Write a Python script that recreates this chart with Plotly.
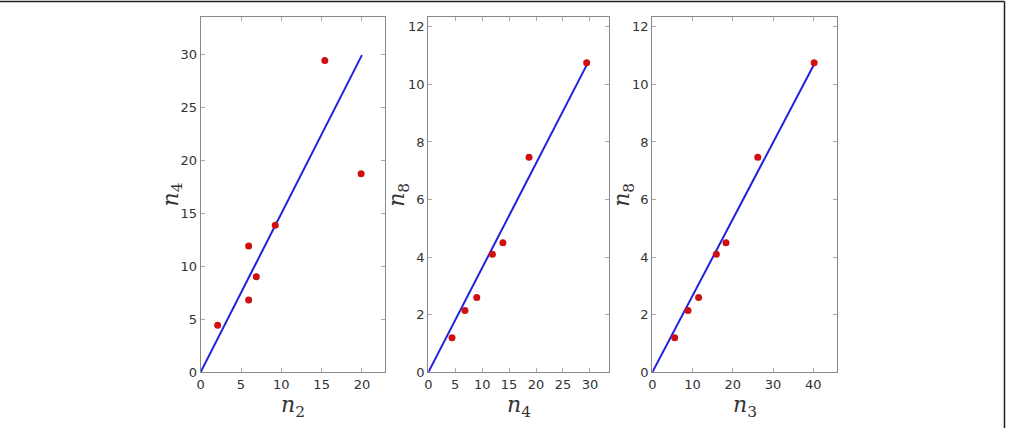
import plotly.graph_objects as go

# data
n2 = [2.1, 5.95, 6.9, 5.95, 9.25, 19.9, 15.4]
n4 = [4.4, 6.8, 9.0, 11.9, 13.85, 18.7, 29.4]
n8 = [1.2, 2.15, 2.6, 4.1, 4.5, 7.47, 10.75]
n3 = [5.56, 8.87, 11.5, 15.9, 18.3, 26.2, 40.2]

fit1_x = [0, 20.0]
fit1_y = [0, 29.9]
fit2_x = [0, 29.4]
fit2_y = [0, 10.67]
fit3_x = [0, 40.1]
fit3_y = [0, 10.67]

W, H = 1009, 428

def px_x(a, b):
    return [a / W, b / W]

def px_y(top, bottom):
    return [1 - bottom / H, 1 - top / H]

panels = [
    dict(x=n2, y=n4, fx=fit1_x, fy=fit1_y, xd=px_x(200.7, 385.3), yd=px_y(17, 372),
         xr=[0, 22.9], yr=[0, 33.5], xdt=5, ydt=5, xs="2", ys="4", ytx=172),
    dict(x=n4, y=n8, fx=fit2_x, fy=fit2_y, xd=px_x(428.3, 609.3), yd=px_y(17.3, 372.3),
         xr=[0, 33.6], yr=[0, 12.33], xdt=5, ydt=2, xs="4", ys="8", ytx=399),
    dict(x=n3, y=n8, fx=fit3_x, fy=fit3_y, xd=px_x(652.3, 836.7), yd=px_y(17.3, 372.3),
         xr=[0, 45.8], yr=[0, 12.33], xdt=10, ydt=2, xs="3", ys="8", ytx=624),
]

fig = go.Figure()
layout = dict(
    width=W, height=H, margin=dict(l=0, r=0, t=0, b=0, autoexpand=False),
    paper_bgcolor="white", plot_bgcolor="white", showlegend=False,
)

title_font = dict(family="DejaVu Serif, serif", size=22, color="#333")
tick_font = dict(family="DejaVu Sans, sans-serif", size=13, color="#333")

annotations = []
for i, p in enumerate(panels, start=1):
    xa = "x" if i == 1 else f"x{i}"
    ya = "y" if i == 1 else f"y{i}"
    fig.add_trace(go.Scatter(x=p["fx"], y=p["fy"], mode="lines",
                             line=dict(color="#2222dd", width=2),
                             xaxis=xa, yaxis=ya, hoverinfo="skip"))
    fig.add_trace(go.Scatter(x=p["x"], y=p["y"], mode="markers",
                             marker=dict(color="#d01010", size=7),
                             xaxis=xa, yaxis=ya))
    common = dict(showgrid=False, zeroline=False, showline=True, linecolor="#888",
                  linewidth=1.2, mirror="ticks", ticks="inside", ticklen=4,
                  tickcolor="#aaa", tickfont=tick_font, fixedrange=True,
                  automargin=False)
    xkey = "xaxis" if i == 1 else f"xaxis{i}"
    ykey = "yaxis" if i == 1 else f"yaxis{i}"
    layout[xkey] = dict(common, domain=p["xd"], range=p["xr"], dtick=p["xdt"], tick0=0,
                        anchor=ya)
    layout[ykey] = dict(common, domain=p["yd"], range=p["yr"], dtick=p["ydt"], tick0=0,
                        anchor=xa)
    annotations.append(dict(xref="paper", yref="paper",
                            x=(p["xd"][0] + p["xd"][1]) / 2, y=1 - 406 / H,
                            xanchor="center", yanchor="middle", showarrow=False,
                            text=f"<i>n</i><sub>{p['xs']}</sub>", font=title_font))
    annotations.append(dict(xref="paper", yref="paper",
                            x=p["ytx"] / W, y=(p["yd"][0] + p["yd"][1]) / 2,
                            xanchor="center", yanchor="middle", showarrow=False,
                            textangle=-90,
                            text=f"<i>n</i><sub>{p['ys']}</sub>", font=title_font))

layout["annotations"] = annotations
fig.update_layout(**layout)

# outer frame lines (top and right)
fig.add_shape(type="line", xref="paper", yref="paper", x0=0, x1=1004.5 / W,
              y0=1 - 1.5 / H, y1=1 - 1.5 / H, line=dict(color="#222", width=1.5))
fig.add_shape(type="line", xref="paper", yref="paper", x0=1004.5 / W, x1=1004.5 / W,
              y0=0, y1=1 - 1.5 / H, line=dict(color="#222", width=1.5))

fig.write_html("out.html")
